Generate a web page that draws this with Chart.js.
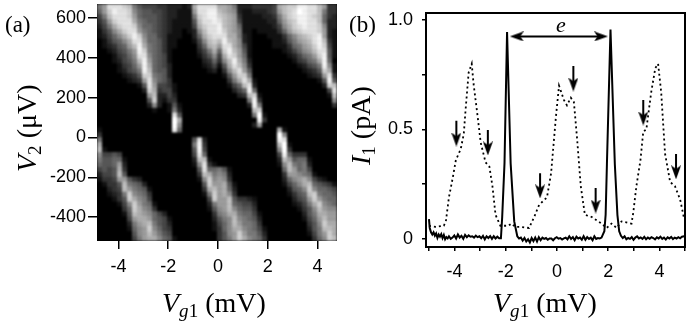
<!DOCTYPE html>
<html><head><meta charset="utf-8">
<script src="https://cdn.jsdelivr.net/npm/chart.js@4"></script>
<style>
html,body{margin:0;padding:0;background:#fff;width:692px;height:328px;overflow:hidden}
canvas{position:absolute;top:0}
#ca{left:0}#cb{left:346px}
.t{position:absolute;font-family:"Liberation Serif",serif;color:#000;line-height:1;white-space:nowrap}
.r{transform-origin:0 0;transform:rotate(-90deg)}
.t sub{font-size:.68em;line-height:0;vertical-align:-.28em}
i{font-style:italic}
</style></head><body>
<canvas id="ca" width="346" height="328"></canvas>
<canvas id="cb" width="346" height="328"></canvas>
<div class="t" style="left:5px;top:13px;font-size:23px">(a)</div>
<div class="t" style="left:349px;top:13px;font-size:23px">(b)</div>
<div class="t r" style="left:13px;top:172px;font-size:28px"><i>V</i><sub>2</sub> (μV)</div>
<div class="t" style="left:162px;top:289px;font-size:28px"><i>V</i><sub><i>g</i>1</sub> (mV)</div>
<div class="t r" style="left:347px;top:165px;font-size:28px"><i>I</i><sub>1</sub> (pA)</div>
<div class="t" style="left:493px;top:289px;font-size:28px"><i>V</i><sub><i>g</i>1</sub> (mV)</div>
<div class="t" style="left:556px;top:14px;font-size:22px"><i>e</i></div>
<script>
const xTicksA=[-4,-2,0,2,4], yTicksA=[600,400,200,0,-200,-400];
const xTicksB=[-5,-4,-3,-2,-1,0,1,2,3,4,5], xLabelsB=[-4,-2,0,2,4];
const yTicksB=[0,0.25,0.5,0.75,1], yLabelsB={0:'0',0.5:'0.5',1:'1.0'};
const rangeA={xMin:-4.864,xMax:4.784,yMin:-520,yMax:670};
const rangeB={xMin:-5.116,xMax:5.0,yMin:-0.037,yMax:1.032};

// panel (a): brightness, one hex digit per cell, rows from top to bottom
const heatRows=[
"79dddcb7 54443322 212adddd aa972223 3334abcc eeddb933",
"69ceddc8 65544322 1119ddee ba982112 22349bcd feddb733",
"47bdddc9 65554322 1117cdee cba93111 12237acd eedcb632",
"359cddda 76554321 1115bdde dba94111 112269bc eeddb622",
"247acddc 86654321 1114acdd eba96111 111248ac deddc822",
"1358acdd 97654321 10128bdd eca97110 1111369b cdddc921",
"12468ace c8664311 10026acd ddaa7210 00111368 abcde921",
"013568ad d9665311 000148bc beba8210 00011257 9abdeb31",
"0123569b ea765311 000036ab 9dda8410 00011136 79acec41",
"00124579 ec765310 0000247a 6ceb9510 00000124 689bdd51",
"00013468 dd865410 00001358 4adc9610 00000012 4679ce51",
"00012457 be965410 00000236 38bea720 00000001 3467ae60",
"00001346 9ea65420 00000124 15adb830 00000000 12457e81",
"00001245 7eb65520 00000012 038bd950 00000000 01235ca1",
"00000123 5cc76520 00000000 0159cc70 00000000 001239d3",
"00000012 39d86530 00000000 0037ada1 00000000 000015e5",
"00000000 15d94431 00000000 00146bd2 00000000 000002cb",
"00000000 02ca3441 00000000 000246e6 00000000 0000004d",
"00000000 009b2242 00000000 000023bc 10000000 0000001b",
"00000000 005c2133 00000000 0000007e 30000000 00000008",
"00000000 00282015 10000000 0000002e 70000000 00000003",
"00000000 00010017 20000000 0000000b c0000000 00000000",
"00000000 0000000d 50000000 00000007 f1000000 00000000",
"00000000 0000000f a0000000 00000000 e3000000 00000000",
"00000000 0000000f 80000000 00000002 90000000 00000000",
"10000000 0000000e 60000000 00000000 0000a100 00000000",
"30000000 00000000 00000000 00000000 0000f800 00000000",
"70000000 00000000 0005d200 00000000 0000ed00 00000000",
"a0000000 00000000 0007e300 00000000 0000bf10 00000000",
"b1000000 00000000 0005e400 00000000 00008f30 00000000",
"84454000 00000000 0004d600 00000000 00004e63 33000000",
"75566100 00000000 0002bb10 00000000 00002b95 66100000",
"65569200 00000000 00018d31 00000000 000018b7 67200000",
"4545a300 00000000 00005d66 75100000 000006b9 67400000",
"2445b500 00000000 00003ba7 87200000 00000399 87610000",
"13349953 20000000 000018c8 98300000 00000268 9a842100",
"01335b76 52000000 000005c9 9a510000 00000146 8ab65431",
"00234b97 65100000 000003ab 9a620000 00000025 68c86654",
"001237c8 76300000 0000017c 9a830000 00000013 56bc7665",
"000135ca 87400000 0000004c 99b53321 00000002 459c9766",
"0000148c 97610000 00000027 99b65442 00000001 247ac876",
"0000036c a8730000 00000015 89b86553 00000000 1358b988",
"0000015b a9864200 00000003 78aa7664 10000000 0257aa99",
"00000049 aa965410 00000002 578b8765 20000000 01469b99",
"00000027 9ab75420 00000001 468b9776 30000000 00358caa",
"00000016 89c86430 00000001 368aa876 41000000 00257bba",
"00000005 89b97540 00000000 3589c977 52000000 001479ca",
"00000004 79aa8651 00000000 3579ca87 63000000 000368cb"
];

// panel (b): dotted trace
const dottedX=[-5.00,-4.73,-4.42,-4.34,-4.22,-4.07,-3.95,-3.76,-3.64,-3.57,-3.45,-3.33,-3.26,-3.10,-2.98,-2.79,-2.64,-2.52,-2.40,-2.21,-1.90,-1.78,-1.63,-1.47,-1.09,-0.89,-0.70,-0.39,-0.23,-0.04,0.08,0.27,0.39,0.54,0.66,0.78,0.93,1.09,1.36,1.74,1.94,2.13,2.33,2.52,2.91,2.98,3.10,3.26,3.37,3.49,3.68,3.84,3.95,4.07,4.22,4.42,4.61,4.81,4.96];
const dottedY=[0.06,0.055,0.06,0.08,0.19,0.28,0.36,0.41,0.48,0.59,0.76,0.80,0.71,0.56,0.44,0.35,0.33,0.24,0.11,0.06,0.06,0.07,0.055,0.055,0.05,0.10,0.155,0.19,0.30,0.56,0.70,0.635,0.61,0.645,0.625,0.465,0.24,0.11,0.10,0.07,0.05,0.07,0.05,0.08,0.07,0.12,0.24,0.36,0.49,0.50,0.67,0.78,0.80,0.67,0.39,0.26,0.24,0.18,0.095];

// panel (b): solid trace
const solidX=[-5.00,-4.97,-4.92,-4.87,-4.82,-4.77,-4.72,-4.67,-4.62,-4.57,-4.52,-4.47,-4.42,-4.37,-4.32,-4.27,-4.22,-4.15,-4.08,-4.01,-3.94,-3.87,-3.80,-3.73,-3.66,-3.59,-3.52,-3.45,-3.38,-3.31,-3.24,-3.17,-3.10,-3.03,-2.96,-2.89,-2.82,-2.75,-2.68,-2.61,-2.54,-2.47,-2.40,-2.33,-2.26,-2.19,-2.14,-2.05,-1.95,-1.81,-1.67,-1.55,-1.48,-1.41,-1.34,-1.27,-1.20,-1.13,-1.06,-0.99,-0.92,-0.85,-0.78,-0.71,-0.64,-0.57,-0.50,-0.43,-0.36,-0.29,-0.22,-0.15,-0.08,-0.01,0.06,0.13,0.20,0.27,0.34,0.41,0.48,0.55,0.62,0.69,0.76,0.83,0.90,0.97,1.04,1.11,1.18,1.25,1.32,1.39,1.46,1.53,1.60,1.67,1.74,1.85,1.90,1.95,2.09,2.26,2.36,2.43,2.50,2.57,2.64,2.71,2.78,2.85,2.92,2.99,3.06,3.13,3.20,3.27,3.34,3.41,3.48,3.55,3.62,3.69,3.76,3.83,3.90,3.97,4.04,4.11,4.18,4.25,4.32,4.39,4.46,4.53,4.60,4.67,4.74,4.81,4.88,4.97];
const solidY=[0.09,0.05,0.03,0.02,0.03,0.015,0.025,0.005,0.02,0.01,0.022,0.004,0.018,-0.002,0.008,0.002,0.012,0.0,0.006,0.016,0.002,0.02,0.006,0.014,0.0,0.018,0.008,0.016,0.01,0.012,0.006,0.015,0.008,0.012,0.003,0.014,-0.002,0.012,0.004,0.013,0.0,0.012,0.002,0.01,0.003,0.003,0.10,0.345,0.945,0.345,0.08,0.012,0.002,0.006,-0.008,0.004,-0.012,-0.002,-0.016,0.004,-0.01,0.006,-0.012,0.008,-0.006,0.006,0.0,0.004,-0.004,0.002,0.002,-0.006,0.003,0.008,0.001,0.004,-0.003,0.002,0.006,-0.002,0.012,0.0,0.008,-0.006,0.01,0.002,0.006,-0.004,0.012,-0.004,0.008,0.0,0.006,-0.006,0.012,0.0,0.004,0.002,0.006,0.035,0.11,0.34,0.957,0.34,0.11,0.035,0.014,0.004,0.012,-0.002,0.004,0.0,0.008,-0.004,0.006,0.012,0.002,0.007,0.0,0.009,-0.002,0.006,0.001,0.008,0.004,-0.002,0.007,0.002,0.01,0.0,0.006,-0.003,0.007,0.002,0.009,-0.001,0.006,0.002,0.008,0.003,0.01,0.012];

// panel (b): arrows
const arrowX=[-3.93,-2.70,-0.66,0.64,1.51,3.37,4.65];
const arrowTop=[0.54,0.498,0.30,0.79,0.233,0.635,0.388];
const arrowHead=[0.454,0.413,0.217,0.705,0.148,0.55,0.304];
const spanX=[-1.57,1.72], spanY=[0.925,0.925];

const TICK_FONT={family:'"Liberation Sans",Arial,sans-serif',size:18};
Chart.defaults.animation=false;
Chart.defaults.responsive=false;
Chart.defaults.color='#000';

function pairs(xs,ys){return xs.map((x,i)=>({x,y:ys[i]}));}
function fixed(values){return s=>{s.ticks=values.map(v=>({value:v}));};}
function fitX(h){return s=>{s.height=h;s.paddingLeft=0;s.paddingRight=0;};}
function fitY(w){return s=>{s.width=w;s.paddingTop=0;s.paddingBottom=0;};}

// ----- panel (a)
const grid=heatRows.map(r=>r.replace(/ /g,''));
const nRows=grid.length,nCols=grid[0].length;
const dx=(rangeA.xMax-rangeA.xMin)/nCols, dy=(rangeA.yMax-rangeA.yMin)/nRows;
const cells=[],cellColors=[];
grid.forEach((row,r)=>{[...row].forEach((ch,c)=>{
  const v=parseInt(ch,16); if(!v)return;
  cells.push({x:rangeA.xMin+(c+.5)*dx,y:rangeA.yMax-(r+.5)*dy});
  const g=v*17; cellColors.push(`rgb(${g},${g},${g})`);
});});
const softCells={id:'softCells',
  beforeDatasetsDraw(ch){const c=ch.ctx,a=ch.chartArea;c.save();c.fillStyle='#000';c.fillRect(a.left,a.top,a.width,a.height);
    c.globalCompositeOperation='lighter';c.filter='blur(1.3px)';},
  afterDatasetsDraw(ch){ch.ctx.restore();}};
new Chart(document.getElementById('ca'),{type:'scatter',
  data:{datasets:[{data:cells,pointStyle:'rect',pointRadius:3.54,pointBorderWidth:0,backgroundColor:cellColors,borderWidth:0,showLine:false}]},
  plugins:[softCells],
  options:{layout:{padding:{top:3,right:9,left:0,bottom:0}},
    plugins:{legend:{display:false},tooltip:{enabled:false}},
    scales:{
      x:{type:'linear',min:rangeA.xMin,max:rangeA.xMax,afterBuildTicks:fixed(xTicksA),afterFit:fitX(87),
        border:{display:false},grid:{drawOnChartArea:false,drawTicks:true,tickLength:8,color:'#000',lineWidth:1.5},
        ticks:{font:TICK_FONT,color:'#000',padding:7,maxRotation:0,autoSkip:false,callback:v=>String(v)}},
      y:{type:'linear',min:rangeA.yMin,max:rangeA.yMax,afterBuildTicks:fixed(yTicksA),afterFit:fitY(97),
        border:{display:false},grid:{drawOnChartArea:false,drawTicks:true,tickLength:9,color:'#000',lineWidth:1.5},
        ticks:{font:TICK_FONT,color:'#000',padding:2,autoSkip:false,callback:v=>String(v)}}
    }}});

// ----- panel (b)
function headCanvas(){const c=document.createElement('canvas');c.width=10;c.height=14;const g=c.getContext('2d');
  g.fillStyle='#000';g.beginPath();g.moveTo(5,14);g.lineTo(0,0);g.lineTo(5,3.5);g.lineTo(10,0);g.closePath();g.fill();return c;}
const head=headCanvas();
const arrowSets=arrowX.map((x,i)=>({data:[{x,y:arrowTop[i]},{x,y:arrowHead[i]}],borderColor:'#000',borderWidth:2,
  pointStyle:head,pointRadius:[0,5],pointRotation:0,tension:0}));
const frame={id:'frame',afterDraw(ch){const c=ch.ctx,a=ch.chartArea;c.save();c.strokeStyle='#000';c.lineWidth=2;
  c.strokeRect(a.left,a.top,a.width,a.height);c.restore();}};
new Chart(document.getElementById('cb'),{type:'scatter',
  data:{datasets:[
    {data:pairs(dottedX,dottedY),showLine:true,borderColor:'#000',borderWidth:1.8,borderDash:[2,3],pointRadius:0,tension:0},
    {data:pairs(solidX,solidY),showLine:true,borderColor:'#000',borderWidth:2,pointRadius:0,tension:0},
    ...arrowSets.map(s=>Object.assign(s,{showLine:true})),
    {data:pairs(spanX,spanY),showLine:true,borderColor:'#000',borderWidth:2,pointStyle:head,pointRadius:5,pointRotation:[90,-90],tension:0}
  ]},
  plugins:[frame],
  options:{layout:{padding:{top:13,right:5,left:0,bottom:0}},
    plugins:{legend:{display:false},tooltip:{enabled:false}},
    scales:{
      x:{type:'linear',min:rangeB.xMin,max:rangeB.xMax,afterBuildTicks:fixed(xTicksB),afterFit:fitX(81),
        border:{display:false},grid:{drawOnChartArea:false,drawTicks:true,tickLength:4,color:'#000',lineWidth:1.5},
        ticks:{font:TICK_FONT,color:'#000',padding:10,maxRotation:0,autoSkip:false,callback:v=>xLabelsB.includes(v)?String(v):''}},
      y:{type:'linear',min:rangeB.yMin,max:rangeB.yMax,afterBuildTicks:fixed(yTicksB),afterFit:fitY(80),
        border:{display:false},grid:{drawOnChartArea:false,drawTicks:true,tickLength:4,color:'#000',lineWidth:1.5},
        ticks:{font:TICK_FONT,color:'#000',padding:9,autoSkip:false,callback:v=>yLabelsB[v]||''}}
    }}});
</script>
</body></html>
